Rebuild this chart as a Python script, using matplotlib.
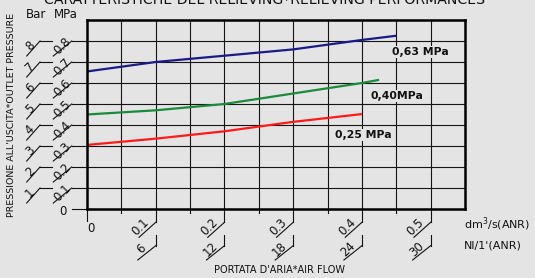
import matplotlib
matplotlib.use("Agg")
import matplotlib.pyplot as plt
import numpy as np

# ---- data ----
flow_dm3s = [0.0, 0.1, 0.2, 0.3, 0.4, 0.45]
p_063 = [0.655, 0.70, 0.73, 0.76, 0.805, 0.825]
flow_040 = [0.0, 0.1, 0.2, 0.3, 0.4, 0.425]
p_040 = [0.45, 0.47, 0.50, 0.55, 0.60, 0.615]
flow_025 = [0.0, 0.1, 0.2, 0.3, 0.4]
p_025 = [0.305, 0.335, 0.37, 0.415, 0.452]
series_labels = ["0,63 MPa", "0,40MPa", "0,25 MPa"]
label_pos = [(0.4845, 0.749), (0.4506, 0.538), (0.402, 0.352)]

y_mpa_ticks = [0.1, 0.2, 0.3, 0.4, 0.5, 0.6, 0.7, 0.8]
y_mpa_labels = ["0.1", "0.2", "0.3", "0.4", "0.5", "0.6", "0.7", "0.8"]
y_bar_labels = ["1", "2", "3", "4", "5", "6", "7", "8"]
x_ticks = [0.1, 0.2, 0.3, 0.4, 0.5]
x_labels = ["0.1", "0.2", "0.3", "0.4", "0.5"]
x_nl_labels = ["6", "12", "18", "24", "30"]
x_minor = [0.05, 0.15, 0.25, 0.35, 0.45]

BG = "#e3e4e3"
FIG_W, FIG_H = 535, 278
fig = plt.figure(figsize=(FIG_W / 100, FIG_H / 100), dpi=100, facecolor=BG)

L, R, T, B = 87, 465, 20, 209
ax = fig.add_axes([L / FIG_W, 1 - B / FIG_H, (R - L) / FIG_W, (B - T) / FIG_H])
ax.set_facecolor(BG)
XMAX, YMAX = 0.55, 0.9
ax.set_xlim(0, XMAX)
ax.set_ylim(0, YMAX)
sx = (R - L) / XMAX
sy = (B - T) / YMAX

def off(x, y, dx, dy):
    return x + dx / sx, y - dy / sy

# grid
for xv in np.arange(0.05, 0.55, 0.05):
    ax.axvline(xv, color="#151515", lw=0.8, zorder=1)
for yv in np.arange(0.1, 0.85, 0.1):
    ax.axhline(yv, color="#151515", lw=0.8, zorder=1)
ax.set_xticks([])
ax.set_yticks([])
for s in ax.spines.values():
    s.set_linewidth(1.8)
    s.set_color("black")
    s.set_zorder(5)

# series
ax.plot(flow_dm3s, p_063, color="#1c1a86", lw=1.6, zorder=3, solid_capstyle="butt")
ax.plot(flow_040, p_040, color="#1a8a3c", lw=1.6, zorder=3, solid_capstyle="butt")
ax.plot(flow_025, p_025, color="#ff1a1a", lw=1.6, zorder=3, solid_capstyle="butt")
for lab, (lx, ly) in zip(series_labels, label_pos):
    ax.text(lx, ly, lab, ha="center", va="center", fontsize=7.8, fontweight="bold",
            color="#111", zorder=4,
            bbox=dict(facecolor=BG, edgecolor="none", pad=0.6))

lk = dict(color="#111", lw=0.8, clip_on=False, zorder=2)
tk = dict(fontsize=8.5, color="#111", ha="center", va="center")

# left tick decorations
for v, ml, bl in zip(y_mpa_ticks, y_mpa_labels, y_bar_labels):
    x0, y0 = off(0, v, -15.3, 0)
    ax.plot([x0, 0], [v, v], **lk)
    x1, y1 = off(0, v, -33.7, 15)
    ax.plot([x0, x1], [y0, y1], **lk)
    tx, ty = off(0, v, -25, 4.5)
    ax.text(tx, ty, ml, rotation=45, **tk)
    b0, _ = off(0, v, -47, 0)
    b1, _ = off(0, v, -35.3, 0)
    ax.plot([b0, b1], [v, v], **lk)
    b2, by2 = off(0, v, -60.3, 15)
    ax.plot([b0, b2], [v, by2], **lk)
    tx, ty = off(0, v, -57, 4.5)
    ax.text(tx, ty, bl, rotation=45, **tk)
x0, _ = off(0, 0, -15.3, 0)
ax.plot([x0, 0], [0, 0], **lk)
tx, ty = off(0, 0, -23.7, 2.7)
ax.text(tx, ty, "0", **tk)
tx, ty = off(0, YMAX, -51, -5.7)
ax.text(tx, ty, "Bar", **tk)
tx, ty = off(0, YMAX, -21.3, -5.7)
ax.text(tx, ty, "MPa", **tk)

# bottom tick decorations
for v, xl, nl in zip(x_ticks, x_labels, x_nl_labels):
    _, ya = off(v, 0, 0, 13.3)
    ax.plot([v, v], [0, ya], **lk)
    xb, yb = off(v, 0, -16.7, 28.3)
    ax.plot([v, xb], [ya, yb], **lk)
    tx, ty = off(v, 0, -15, 17.7)
    ax.text(tx, ty, xl, rotation=45, **tk)
    _, yc = off(v, 0, 0, 26)
    _, yd = off(v, 0, 0, 36.7)
    ax.plot([v, v], [yc, yd], **lk)
    xe, ye = off(v, 0, -18, 51)
    ax.plot([v, xe], [yd, ye], **lk)
    tx, ty = off(v, 0, -14, 40)
    ax.text(tx, ty, nl, rotation=45, **tk)
for v in x_minor:
    _, ya = off(v, 0, 0, 3.7)
    ax.plot([v, v], [0, ya], **lk)
_, ya = off(0, 0, 0, 12)
ax.plot([0, 0], [0, ya], **lk)
tx, ty = off(0, 0, 4, 19)
ax.text(tx, ty, "0", **tk)

# units
fig.text(464 / FIG_W, 1 - 224 / FIG_H, "dm$^3$/s(ANR)", fontsize=8, color="#111",
         ha="left", va="center")
fig.text(464 / FIG_W, 1 - 246 / FIG_H, "Nl/1'(ANR)", fontsize=8, color="#111",
         ha="left", va="center")

# axis titles
fig.text(280 / FIG_W, 1 - 270 / FIG_H, "PORTATA D'ARIA*AIR FLOW", fontsize=7,
         color="#111", ha="center", va="center")
fig.text(12 / FIG_W, 1 - 115 / FIG_H, "PRESSIONE ALL'USCITA*OUTLET PRESSURE",
         fontsize=6.8, color="#111", ha="center", va="center", rotation=90)
fig.text(264.5 / FIG_W, 1 - 3.8 / FIG_H,
         "CARATTERISTICHE DEL RELIEVING*RELIEVING PERFORMANCES",
         fontsize=10.2, color="#111", ha="center", va="baseline")

fig.savefig("out.png", dpi=100, facecolor=BG)
